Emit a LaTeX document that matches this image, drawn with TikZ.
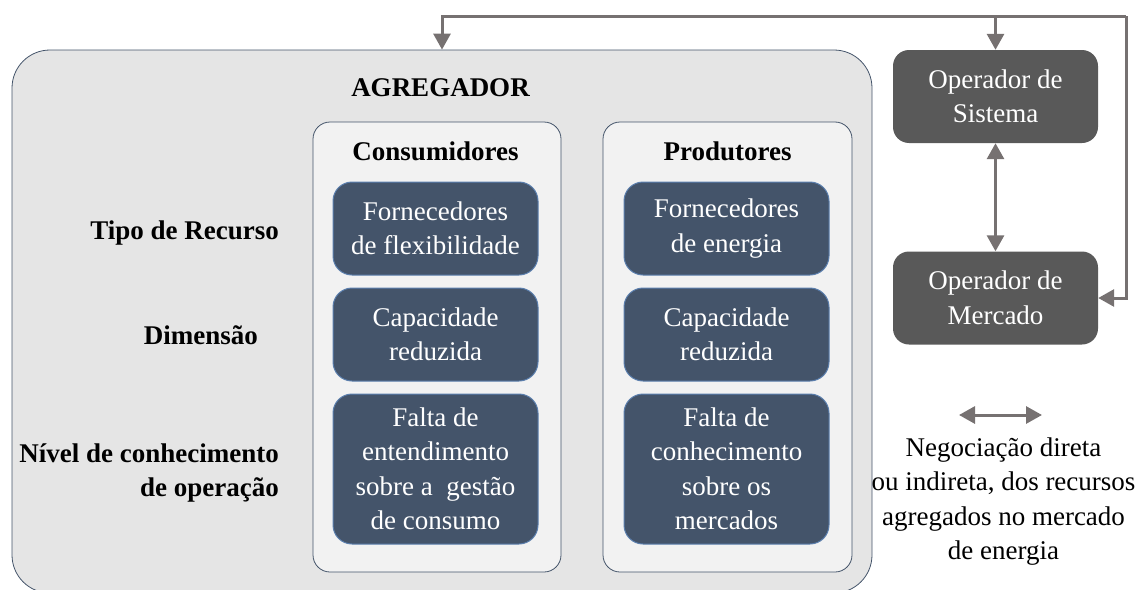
\documentclass[tikz,border=0pt]{standalone}
\usepackage{fontspec}
\setmainfont{Liberation Serif}
\usetikzlibrary{arrows.meta}
\definecolor{bigfill}{HTML}{E5E5E5}
\definecolor{panelfill}{HTML}{F2F2F2}
\definecolor{edgec}{HTML}{44546A}
\definecolor{darkbox}{HTML}{44546A}
\definecolor{darkedge}{HTML}{5B7FAE}
\definecolor{opfill}{HTML}{595959}
\definecolor{arrowgray}{HTML}{767171}
\tikzset{
  txt/.style={font=\fontsize{27}{34.5}\selectfont, align=center, inner sep=0pt},
  btxt/.style={font=\fontsize{27}{34.5}\selectfont\bfseries, align=center, inner sep=0pt},
  bigbox/.style={draw=edgec, fill=bigfill, line width=0.8pt, rounded corners=38pt},
  panel/.style={draw=edgec, fill=panelfill, line width=0.8pt, rounded corners=17pt},
  dbox/.style={draw=darkedge, fill=darkbox, line width=1pt, rounded corners=19pt,
    text=white, font=\fontsize{27}{34.5}\selectfont, align=center, inner sep=0pt,
    minimum width=205pt},
  opbox/.style={fill=opfill, rounded corners=16pt, text=white,
    font=\fontsize{27}{34.5}\selectfont, align=center, inner sep=0pt,
    minimum width=205pt, minimum height=93pt},
  conn/.style={draw=arrowgray, line width=3pt, -{Triangle[width=17pt,length=16pt]}},
  conn2/.style={draw=arrowgray, line width=3pt, {Triangle[width=17pt,length=16pt]}-{Triangle[width=17pt,length=16pt]}},
}
\begin{document}
\begin{tikzpicture}[x=1pt,y=-1pt]
\useasboundingbox (0,0) rectangle (1137,589);
% aggregator
\node[bigbox, minimum width=860pt, minimum height=543pt] (agg) at (442,321.5) {};
\node[btxt, anchor=base] (aggt) at (440.5,96) {AGREGADOR};
% panels
\node[panel, minimum width=248pt, minimum height=450pt] (cons) at (437,347) {};
\node[panel, minimum width=249pt, minimum height=450pt] (prod) at (727.5,347) {};
\node[btxt, anchor=base] (const) at (435.5,160) {Consumidores};
\node[btxt, anchor=base] (prodt) at (727.5,160) {Produtores};
% consumers boxes
\node[dbox, minimum height=93pt] (c1) at (435.5,228.5) {Fornecedores\\de flexibilidade};
\node[dbox, minimum height=93pt] (c2) at (435.5,334.5) {Capacidade\\reduzida};
\node[dbox, minimum height=150pt] (c3) at (435.5,469) {Falta de\\entendimento\\sobre a~ gestão\\de consumo};
% producers boxes
\node[dbox, minimum height=93pt] (p1) at (726.5,228.5) {Fornecedores\\de energia};
\node[dbox, minimum height=93pt] (p2) at (726.5,334.5) {Capacidade\\reduzida};
\node[dbox, minimum height=150pt] (p3) at (726.5,469) {Falta de\\conhecimento\\sobre os\\mercados};
% row labels
\node[btxt, anchor=base east] (l1) at (279,239) {Tipo de Recurso};
\node[btxt, anchor=base east] (l2) at (258,344) {Dimensão};
\node[btxt, anchor=east, align=right] (l3) at (279,473) {Nível de conhecimento\\de operação};
% operators
\node[opbox] (sis) at (995.5,96.5) {Operador de\\Sistema};
\node[opbox] (mer) at (995.5,298) {Operador de\\Mercado};
% connectors
\coordinate (tl) at (442,16);
\coordinate (tr) at (1126,16);
\draw[conn] (tr) -- (tl) -- (tl |- agg.north);
\draw[conn] (tr) |- (mer.east);
\draw[conn] (sis.north |- tl) -- (sis.north);
\draw[conn2] (sis.south) -- (mer.north);
% legend
\coordinate (la) at (959,415);
\coordinate (lb) at (1042,415);
\draw[conn2] (la) -- (lb);
\node[txt] (leg) at (1003.5,501.5) {Negociação direta\\ou indireta, dos recursos\\agregados no mercado\\de energia};
\end{tikzpicture}
\end{document}
